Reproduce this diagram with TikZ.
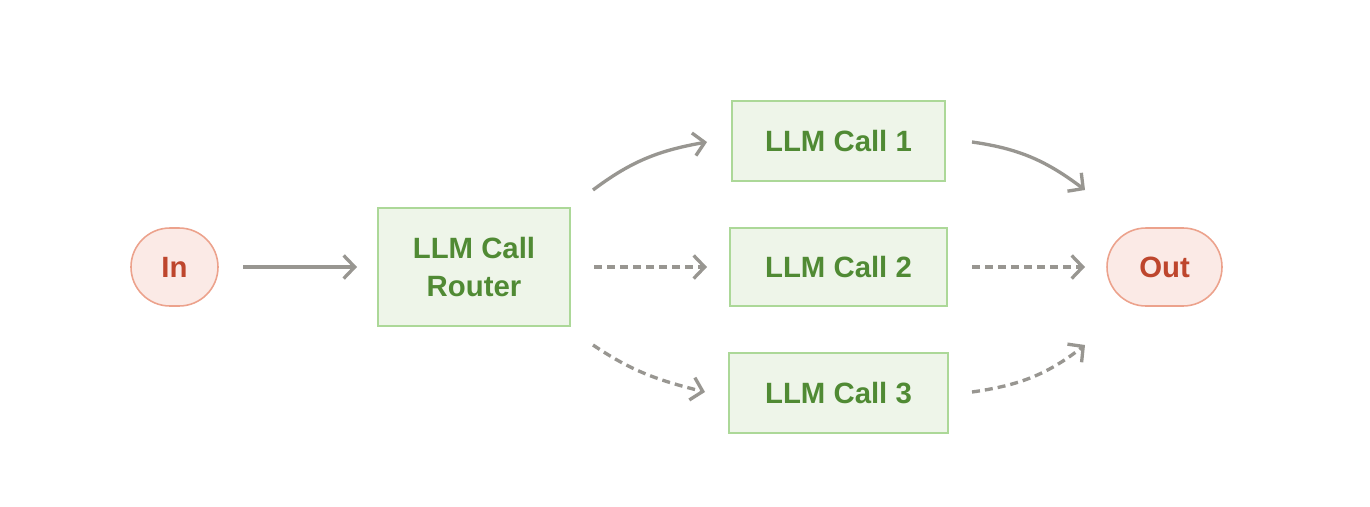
\documentclass[tikz,border=0pt]{standalone}
\usepackage{fontspec}
\setmainfont{Liberation Sans}
\usetikzlibrary{arrows.meta,calc}
\definecolor{gtext}{RGB}{80,138,52}
\definecolor{gfill}{RGB}{238,245,233}
\definecolor{gdraw}{RGB}{172,216,152}
\definecolor{pfill}{RGB}{251,234,230}
\definecolor{pdraw}{RGB}{236,162,140}
\definecolor{ptext}{RGB}{190,70,45}
\definecolor{agray}{RGB}{152,150,145}
\tikzset{
  lbl/.style={font=\bfseries\fontsize{16.7}{22}\selectfont, align=center, inner sep=0pt},
  gbox/.style={lbl, draw=gdraw, fill=gfill, text=gtext, line width=0.9pt},
  pill/.style={lbl, draw=pdraw, fill=pfill, text=ptext, line width=0.9pt, rounded corners=0.78cm, minimum height=1.56cm},
  conn/.style={draw=agray, line width=1.9pt, -{Straight Barb[length=0.22cm, width=0.46cm, line width=1.9pt]}},
  dconn/.style={conn, dash pattern=on 0.16cm off 0.1cm},
}
\begin{document}
\begin{tikzpicture}
\useasboundingbox (0,0) rectangle (27.4,10.12);
% nodes (px*0.02cm, y flipped)
\node[pill, minimum width=1.74cm] (in) at (3.49,4.78) {In};
\node[gbox, minimum width=3.84cm, minimum height=2.36cm] (router) at (9.48,4.78) {LLM Call\\Router};
\node[gbox, minimum width=4.26cm, minimum height=1.6cm] (c1) at (16.77,7.30) {LLM Call 1};
\node[gbox, minimum width=4.34cm, minimum height=1.56cm] (c2) at (16.77,4.78) {LLM Call 2};
\node[gbox, minimum width=4.38cm, minimum height=1.6cm] (c3) at (16.77,2.26) {LLM Call 3};
\node[pill, minimum width=2.3cm] (out) at (23.29,4.78) {Out};
% connector end points
\coordinate (a0s) at (4.86,4.78);
\coordinate (a0e) at (7.14,4.78);
\coordinate (a1s) at (11.86,6.32);
\coordinate (a1e) at (14.14,7.28);
\coordinate (a2s) at (11.88,4.78);
\coordinate (a2e) at (14.14,4.78);
\coordinate (a3s) at (11.86,3.22);
\coordinate (a3e) at (14.10,2.28);
\coordinate (b1s) at (19.44,7.28);
\coordinate (b1e) at (21.70,6.32);
\coordinate (b2s) at (19.44,4.78);
\coordinate (b2e) at (21.70,4.78);
\coordinate (b3s) at (19.44,2.28);
\coordinate (b3e) at (21.70,3.22);
% connectors
\draw[conn] (a0s) -- (a0e);
\draw[conn] (a1s) to[out=37, in=190] (a1e);
\draw[dconn] (a2s) -- (a2e);
\draw[dconn] (a3s) to[out=-34, in=166] (a3e);
\draw[conn] (b1s) to[out=-8, in=143] (b1e);
\draw[dconn] (b2s) -- (b2e);
\draw[dconn] (b3s) to[out=8, in=-142] (b3e);
\end{tikzpicture}
\end{document}
